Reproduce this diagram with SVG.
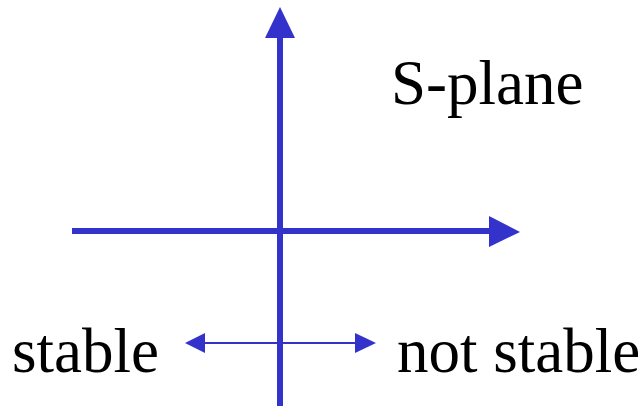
<svg xmlns="http://www.w3.org/2000/svg" width="644" height="406" viewBox="0 0 644 406">
<style>
.ax{stroke:#3333cc;stroke-width:6;fill:none}
.thin{stroke:#3333cc;stroke-width:2;fill:none}
.head{fill:#3333cc}
</style>
<rect width="644" height="406" fill="#fff"/>
<g id="connectors">
<line class="ax" x1="280" y1="36" x2="280" y2="406"/>
<polygon class="head" points="280,7 265,38 295,38"/>
<line class="ax" x1="72" y1="231" x2="491" y2="231"/>
<polygon class="head" points="520,232 489,216 489,247"/>
<line class="thin" x1="203" y1="343" x2="357" y2="343"/>
<polygon class="head" points="185,343 205,333 205,353"/>
<polygon class="head" points="376,343 355,333 355,353"/>
</g>
<g font-family="'Liberation Serif', 'Times New Roman', 'DejaVu Serif', serif" font-size="63" fill="#000">
<g id="splane"><text x="391" y="104">S-plane</text></g>
<g id="stable"><text x="12" y="372">stable</text></g>
<g id="notstable"><text x="397" y="372">not stable</text></g>
</g>
</svg>
